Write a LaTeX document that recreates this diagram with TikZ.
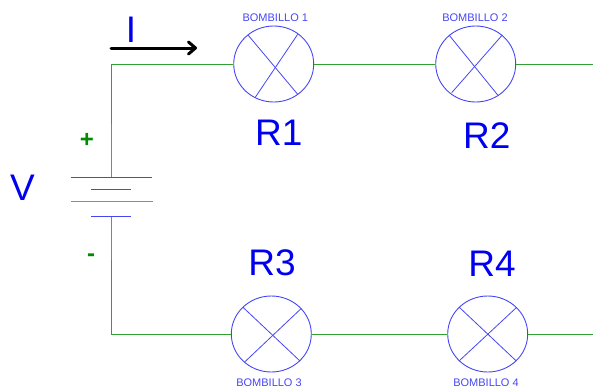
\documentclass[tikz,border=0pt]{standalone}
\usepackage{fontspec}
\setmainfont{Liberation Sans}
\usetikzlibrary{shapes.geometric,arrows.meta}
\definecolor{wire}{RGB}{50,160,50}
\definecolor{sym}{RGB}{70,70,245}
\definecolor{txt}{RGB}{0,0,240}
\definecolor{sign}{RGB}{0,140,0}
\tikzset{
  bulb/.style={draw=sym,ellipse,line width=.9pt,inner sep=0pt,minimum width=80pt,minimum height=76pt},
  spoke/.style={draw=sym,line width=.8pt},
  wireline/.style={draw=wire,line width=1pt},
  lead/.style={draw=sym!75!white,line width=1pt},
  plate/.style={draw=sym,line width=1pt},
  big/.style={text=txt,anchor=base,inner sep=0pt,font=\fontsize{37}{37}\selectfont},
  small/.style={text=sym,anchor=base,inner sep=0pt,font=\fontsize{11}{11}\selectfont},
  polarity/.style={text=sign,anchor=center,inner sep=0pt,font=\bfseries\fontsize{24}{24}\selectfont}
}
\begin{document}
\begin{tikzpicture}[x=1pt,y=-1pt]
\useasboundingbox (0,0) rectangle (593,388);
% bulbs
\node[bulb] (b1) at (273.7,64) {};
\node[bulb] (b2) at (475.7,64) {};
\node[bulb] (b3) at (271.3,334) {};
\node[bulb] (b4) at (487.7,334) {};
% spokes
\draw[spoke] (248,35) -- (297.7,94.3);
\draw[spoke] (297.7,34.3) -- (255,97.7);
\draw[spoke] (449,35) -- (497.7,95);
\draw[spoke] (502.3,35) -- (451.7,92.7);
\draw[spoke] (243,307.3) -- (300,361);
\draw[spoke] (301,308.7) -- (244.3,362.3);
\draw[spoke] (459.3,307.3) -- (516,360.7);
\draw[spoke] (516.7,307.3) -- (459,361);
% coordinates
\coordinate (tl) at (111,64);
\coordinate (bl) at (111,334);
\coordinate (tj) at (111,124);
\coordinate (bj) at (111,260);
\coordinate (p1) at (111,177.3);
\coordinate (p4) at (111,216.3);
\coordinate (re1) at (593,64);
\coordinate (re2) at (593,334);
\coordinate (as) at (111,48);
\coordinate (ae) at (197,48);
% wires
\draw[wireline] (tj) -- (tl) -- (b1.west);
\draw[wireline] (b1.east) -- (b2.west);
\draw[wireline] (b2.east) -- (re1);
\draw[wireline] (bj) -- (bl) -- (b3.west);
\draw[wireline] (b3.east) -- (b4.west);
\draw[wireline] (b4.east) -- (re2);
% battery
\draw[lead] (tj) -- (p1);
\draw[lead] (p4) -- (bj);
\draw[plate] (70.5,177.3) -- (152,177.3);
\draw[plate] (91,189.3) -- (131,189.3);
\draw[plate,draw=sym!70!white] (71,201) -- (153,201);
\draw[plate] (91,216.3) -- (131,216.3);
% current arrow
\draw[black,line width=3pt,line cap=round,-{Straight Barb[length=7pt,width=12pt,line width=3pt,round]}] (as) -- (ae);
% labels
\node[big] (ti) at (131,42) {I};
\node[big] (tv) at (22.5,200.5) {V};
\node[big] (r1) at (278.7,145) {R1};
\node[big] (r2) at (486.7,148.3) {R2};
\node[big] (r3) at (272,275) {R3};
\node[big] (r4) at (492,276) {R4};
\node[small] (l1) at (275.3,21.7) {BOMBILLO 1};
\node[small] (l2) at (475,21.7) {BOMBILLO 2};
\node[small] (l3) at (269,386.8) {BOMBILLO 3};
\node[small] (l4) at (486,386) {BOMBILLO 4};
\node[polarity] (plus) at (87,140) {+};
\node[polarity] (minus) at (91,258) {-};
\end{tikzpicture}
\end{document}
